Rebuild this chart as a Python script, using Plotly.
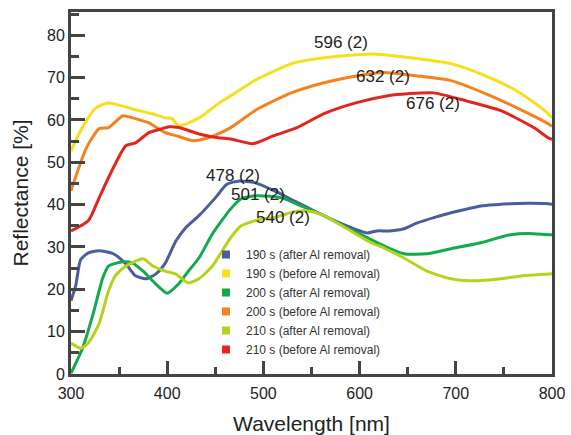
import plotly.graph_objects as go

# Wavelength samples (nm) and reflectance (%) per series
blue_x = [300, 305, 310, 318, 329, 344, 357, 367, 378, 388, 398, 409, 419, 433, 450, 462, 475, 491, 511, 532, 553, 574, 594, 608, 618, 631, 646, 660, 678, 695, 712, 726, 742, 757, 775, 796, 800]
blue_y = [17.3, 21.0, 27.0, 28.6, 29.1, 28.4, 26.0, 23.2, 22.5, 23.6, 26.2, 31.4, 34.5, 37.4, 41.6, 44.8, 45.6, 45.2, 43.3, 40.9, 38.5, 36.2, 34.3, 33.3, 33.8, 33.8, 34.3, 35.7, 37.0, 38.1, 39.0, 39.7, 40.0, 40.2, 40.3, 40.2, 40.1]

yellow_x = [300, 310, 326, 339, 350, 364, 385, 398, 405, 412, 433, 453, 466, 494, 532, 563, 597, 615, 625, 660, 695, 730, 763, 785, 796, 800]
yellow_y = [52.7, 57.5, 62.9, 64.0, 63.5, 62.6, 61.4, 60.5, 60.3, 58.6, 60.5, 63.8, 65.7, 69.7, 73.5, 74.7, 75.4, 75.6, 75.4, 74.5, 73.3, 70.5, 66.9, 63.5, 61.5, 60.5]

green_x = [300, 312, 323, 333, 339, 354, 364, 375, 388, 400, 412, 422, 433, 447, 466, 477, 494, 519, 539, 563, 587, 608, 625, 646, 670, 695, 726, 757, 775, 796, 800]
green_y = [0.2, 6.1, 14.2, 22.7, 25.5, 26.5, 26.2, 24.3, 21.3, 19.1, 21.3, 24.3, 27.4, 33.1, 39.0, 41.4, 42.1, 41.6, 39.7, 37.4, 34.5, 32.2, 30.3, 28.4, 28.4, 29.6, 31.0, 32.9, 33.2, 32.9, 32.9]

orange_x = [300, 316, 329, 339, 354, 364, 381, 398, 409, 427, 443, 453, 466, 494, 529, 563, 597, 625, 660, 695, 729, 763, 796, 800]
orange_y = [43.3, 53.4, 57.9, 58.2, 61.0, 60.5, 59.3, 57.0, 56.3, 55.1, 55.8, 56.7, 58.2, 62.6, 66.4, 68.8, 70.4, 71.2, 70.4, 69.3, 66.4, 62.9, 59.1, 58.5]

lime_x = [300, 310, 318, 329, 339, 346, 357, 375, 385, 398, 409, 422, 433, 447, 466, 477, 498, 511, 530, 546, 563, 587, 612, 625, 646, 670, 695, 719, 747, 770, 796, 800]
lime_y = [7.3, 6.1, 7.3, 11.8, 19.6, 23.2, 25.5, 27.2, 25.5, 24.3, 23.6, 21.5, 22.5, 25.5, 32.2, 35.0, 36.6, 36.9, 38.2, 38.5, 37.4, 34.3, 31.0, 29.8, 27.4, 24.3, 22.5, 22.0, 22.5, 23.2, 23.6, 23.7]

red_x = [300, 318, 329, 344, 357, 367, 381, 391, 402, 412, 433, 453, 466, 489, 511, 535, 563, 597, 631, 650, 677, 711, 747, 781, 796, 800]
red_y = [33.8, 36.2, 41.5, 48.7, 53.9, 54.6, 57.0, 57.7, 58.4, 58.2, 56.7, 55.8, 55.5, 54.4, 56.3, 58.2, 61.5, 64.1, 65.8, 66.2, 66.4, 64.5, 62.2, 58.2, 55.8, 55.4]

names = ["190 s (after Al removal)", "190 s (before Al removal)", "200 s (after Al removal)",
         "200 s (before Al removal)", "210 s (after Al removal)", "210 s (before Al removal)"]
colors = ["#4B5E9B", "#F7DF1E", "#13A94D", "#F4821F", "#B6D21B", "#E2261E"]
series = [(blue_x, blue_y), (yellow_x, yellow_y), (green_x, green_y),
          (orange_x, orange_y), (lime_x, lime_y), (red_x, red_y)]

peak_labels = ["596 (2)", "632 (2)", "676 (2)", "478 (2)", "501 (2)", "540 (2)"]
peak_x = [581, 624, 676, 468, 494, 520]
peak_y = [78.4, 70.2, 63.8, 47.0, 42.3, 36.9]

fig = go.Figure()
for (xs, ys), c in zip(series, colors):
    fig.add_trace(go.Scatter(x=xs, y=ys, mode="lines", line=dict(color=c, width=3, shape="spline", smoothing=0.6),
                             showlegend=False, hoverinfo="skip"))
for n, c in zip(names, colors):
    fig.add_trace(go.Scatter(x=[None], y=[None], mode="markers", name=n,
                             marker=dict(symbol="square", size=8, color=c)))

for t, x, y in zip(peak_labels, peak_x, peak_y):
    fig.add_annotation(x=x, y=y, text=t, showarrow=False, font=dict(size=17, color="#222"))

font = "Liberation Sans, Arial, sans-serif"
axcol = "#444"
fig.update_layout(
    width=571, height=435,
    margin=dict(l=71, r=19, t=12, b=61),
    paper_bgcolor="white", plot_bgcolor="white",
    font=dict(family=font, color="#222"),
    legend=dict(x=(206 - 71) / 481, y=(374 - 240) / 362, xanchor="left", yanchor="top",
                font=dict(size=12, color="#333"), bgcolor="rgba(0,0,0,0)", tracegroupgap=0),
    xaxis=dict(range=[300, 800], tickvals=[300, 400, 500, 600, 700, 800], ticks="inside",
               ticklen=13, tickwidth=3, tickcolor=axcol, showline=True, linewidth=3, linecolor=axcol,
               mirror=True, showgrid=False, zeroline=False, tickfont=dict(size=16), automargin=False,
               ticklabelstandoff=3,
               minor=dict(dtick=50, ticks="inside", ticklen=7, tickwidth=3, tickcolor=axcol, showgrid=False),
               title=dict(text="Wavelength [nm]", font=dict(size=21), standoff=17)),
    yaxis=dict(range=[0, 85.5], tickvals=[0, 10, 20, 30, 40, 50, 60, 70, 80], ticks="inside",
               ticklen=14, tickwidth=3, tickcolor=axcol, showline=True, linewidth=3, linecolor=axcol,
               mirror=True, showgrid=False, zeroline=False, tickfont=dict(size=16), automargin=False,
               minor=dict(dtick=5, ticks="inside", ticklen=8, tickwidth=3, tickcolor=axcol, showgrid=False),
               title=dict(text="Reflectance [%]", font=dict(size=21), standoff=13)),
)

fig.write_html("out.html")
